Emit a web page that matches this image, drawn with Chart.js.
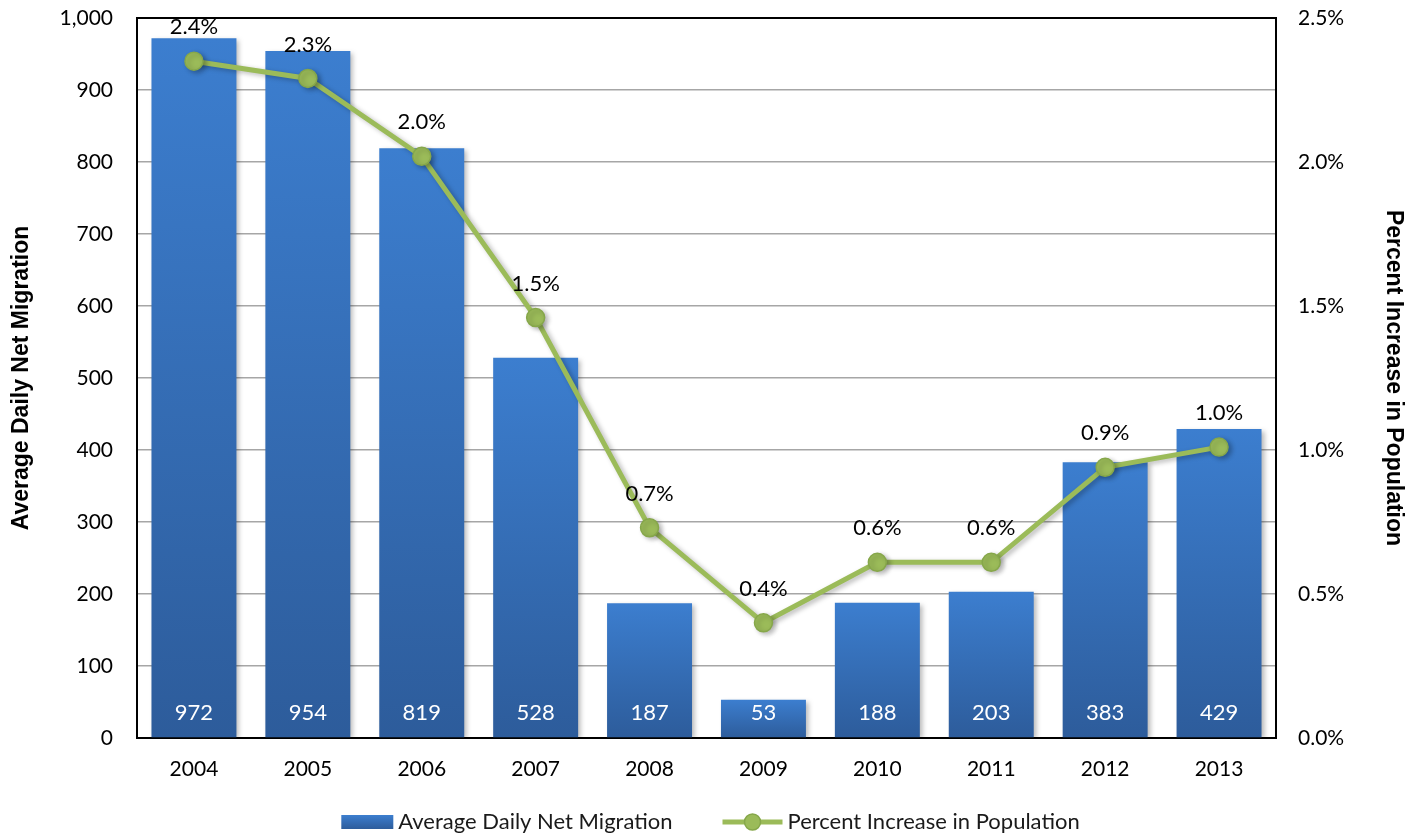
<!DOCTYPE html>
<html>
<head>
<meta charset="utf-8">
<script src="https://cdn.jsdelivr.net/npm/chart.js@4/dist/chart.umd.min.js"></script>
<style>
  html, body { margin: 0; padding: 0; background: #fff; }
  #wrap { width: 1421px; height: 835px; }
</style>
</head>
<body>
<div id="wrap"><canvas id="chart" width="1421" height="835"></canvas></div>
<script>
// Years on the category axis
const years = ['2004', '2005', '2006', '2007', '2008', '2009', '2010', '2011', '2012', '2013'];
// Average daily net migration (left axis)
const migration = [972, 954, 819, 528, 187, 53, 188, 203, 383, 429];
// Percent increase in population (right axis, in %)
const pctIncrease = [2.35, 2.29, 2.02, 1.46, 0.73, 0.40, 0.61, 0.61, 0.94, 1.01];

const migrationLabel = 'Average Daily Net Migration';
const pctLabel = 'Percent Increase in Population';

const FONT = 'Lato, "Open Sans", sans-serif';
const TITLE_FONT = '"Liberation Sans", Arial, sans-serif';
const barTop = '#3c7ecf';
const barBottom = '#2d5c9b';
const green = '#9bbb59';

// vertical gradient per bar, lighter on top
function barFill(ctx) {
  if (ctx.type !== 'data') return barTop;
  const chart = ctx.chart;
  const y = chart.scales.y;
  if (!y || !chart.chartArea) return barTop;
  const top = y.getPixelForValue(ctx.raw);
  const bottom = y.getPixelForValue(0);
  if (!isFinite(top) || !isFinite(bottom) || top === bottom) return barTop;
  const g = chart.ctx.createLinearGradient(0, top, 0, bottom);
  g.addColorStop(0, barTop);
  g.addColorStop(1, barBottom);
  return g;
}

// fixed-width side axes, no extra room above/below for the tick text
function fixSide(width) {
  return scale => {
    scale.width = width;
    scale.paddingTop = 0;
    scale.paddingBottom = 0;
  };
}

// black frame round the plot area
const framePlugin = {
  id: 'frame',
  beforeDatasetsDraw(chart) {
    const { ctx, chartArea: a } = chart;
    ctx.save();
    ctx.strokeStyle = '#000';
    ctx.lineWidth = 2;
    ctx.strokeRect(a.left, a.top, a.right - a.left, a.bottom - a.top);
    ctx.restore();
  }
};

// soft drop shadow under bars and line
const shadowPlugin = {
  id: 'shadow',
  beforeDatasetDraw(chart) {
    const ctx = chart.ctx;
    ctx.save();
    ctx.shadowColor = 'rgba(0,0,0,0.28)';
    ctx.shadowBlur = 5;
    ctx.shadowOffsetX = 3;
    ctx.shadowOffsetY = 2;
  },
  afterDatasetDraw(chart) {
    chart.ctx.restore();
  }
};

// value labels: white counts at the foot of each bar, % above each point
const labelPlugin = {
  id: 'valueLabels',
  afterDatasetsDraw(chart) {
    const ctx = chart.ctx;
    const yScale = chart.scales.y;
    ctx.save();
    ctx.font = '22px ' + FONT;
    ctx.textAlign = 'center';
    ctx.textBaseline = 'middle';

    const barMeta = chart.getDatasetMeta(1);
    barMeta.data.forEach((bar, i) => {
      ctx.fillStyle = '#fff';
      ctx.fillText(String(migration[i]), bar.x, yScale.getPixelForValue(0) - 25);
    });

    const lineMeta = chart.getDatasetMeta(0);
    lineMeta.data.forEach((pt, i) => {
      ctx.fillStyle = '#000';
      ctx.fillText(pctIncrease[i].toFixed(1) + '%', pt.x, pt.y - 34);
    });
    ctx.restore();
  }
};

// legend row under the axis
const legendPlugin = {
  id: 'bottomLegend',
  afterDraw(chart) {
    const ctx = chart.ctx;
    ctx.save();
    ctx.font = '22px ' + FONT;
    ctx.textBaseline = 'middle';
    const cy = 822;
    const boxW = 52, lineW = 60, gapText = 5, gapItems = 50;
    const w1 = ctx.measureText(migrationLabel).width;
    const w2 = ctx.measureText(pctLabel).width;
    const total = boxW + gapText + w1 + gapItems + lineW + gapText + w2;
    let x = (chart.width - total) / 2;

    const g = ctx.createLinearGradient(0, cy - 7, 0, cy + 7);
    g.addColorStop(0, barTop);
    g.addColorStop(1, barBottom);
    ctx.fillStyle = g;
    ctx.fillRect(x, cy - 7, boxW, 14);
    x += boxW + gapText;
    ctx.fillStyle = '#1a1a1a';
    ctx.fillText(migrationLabel, x, cy);
    x += w1 + gapItems;

    ctx.strokeStyle = green;
    ctx.lineWidth = 5;
    ctx.beginPath();
    ctx.moveTo(x, cy);
    ctx.lineTo(x + lineW, cy);
    ctx.stroke();
    ctx.beginPath();
    ctx.arc(x + lineW / 2, cy, 8, 0, Math.PI * 2);
    ctx.fillStyle = green;
    ctx.fill();
    ctx.lineWidth = 1.5;
    ctx.strokeStyle = '#86a74a';
    ctx.stroke();
    x += lineW + gapText;
    ctx.fillStyle = '#1a1a1a';
    ctx.fillText(pctLabel, x, cy);
    ctx.restore();
  }
};

new Chart(document.getElementById('chart'), {
  data: {
    labels: years,
    datasets: [
      {
        type: 'line',
        label: pctLabel,
        data: pctIncrease,
        yAxisID: 'y1',
        borderColor: green,
        borderWidth: 5,
        pointRadius: 9,
        pointBackgroundColor: green,
        pointBorderColor: '#86a74a',
        pointBorderWidth: 1.5,
        tension: 0,
        order: 0
      },
      {
        type: 'bar',
        label: migrationLabel,
        data: migration,
        yAxisID: 'y',
        backgroundColor: barFill,
        barPercentage: 0.746,
        categoryPercentage: 1,
        order: 1
      }
    ]
  },
  options: {
    responsive: false,
    animation: false,
    layout: { padding: { top: 18, bottom: 37, left: 0, right: 0 } },
    plugins: {
      legend: { display: false },
      tooltip: { enabled: false }
    },
    scales: {
      x: {
        offset: true,
        grid: { display: false, drawTicks: false },
        border: { display: false },
        ticks: { color: '#000', font: { family: FONT, size: 21 }, padding: 19 },
        afterFit(scale) { scale.height = 60; }
      },
      y: {
        position: 'left',
        min: 0,
        max: 1000,
        grid: { color: '#a6a6a6', lineWidth: 1.5, drawTicks: false },
        border: { display: false },
        ticks: {
          stepSize: 100,
          color: '#000',
          padding: 24,
          font: { family: FONT, size: 21 },
          callback: v => v.toLocaleString('en-US')
        },
        title: {
          display: true,
          text: migrationLabel,
          color: '#000',
          padding: { top: 8, bottom: 0 },
          font: { family: TITLE_FONT, size: 23, weight: 'bold' }
        },
        afterFit: fixSide(137)
      },
      y1: {
        position: 'right',
        min: 0,
        max: 2.5,
        grid: { display: false, drawTicks: false },
        border: { display: false },
        ticks: {
          stepSize: 0.5,
          color: '#000',
          padding: 22,
          font: { family: FONT, size: 21 },
          callback: v => v.toFixed(1) + '%'
        },
        title: {
          display: true,
          text: pctLabel,
          color: '#000',
          padding: { top: 14, bottom: 0 },
          font: { family: TITLE_FONT, size: 23, weight: 'bold' }
        },
        afterFit: fixSide(145)
      }
    }
  },
  plugins: [framePlugin, shadowPlugin, labelPlugin, legendPlugin]
});
</script>
</body>
</html>
